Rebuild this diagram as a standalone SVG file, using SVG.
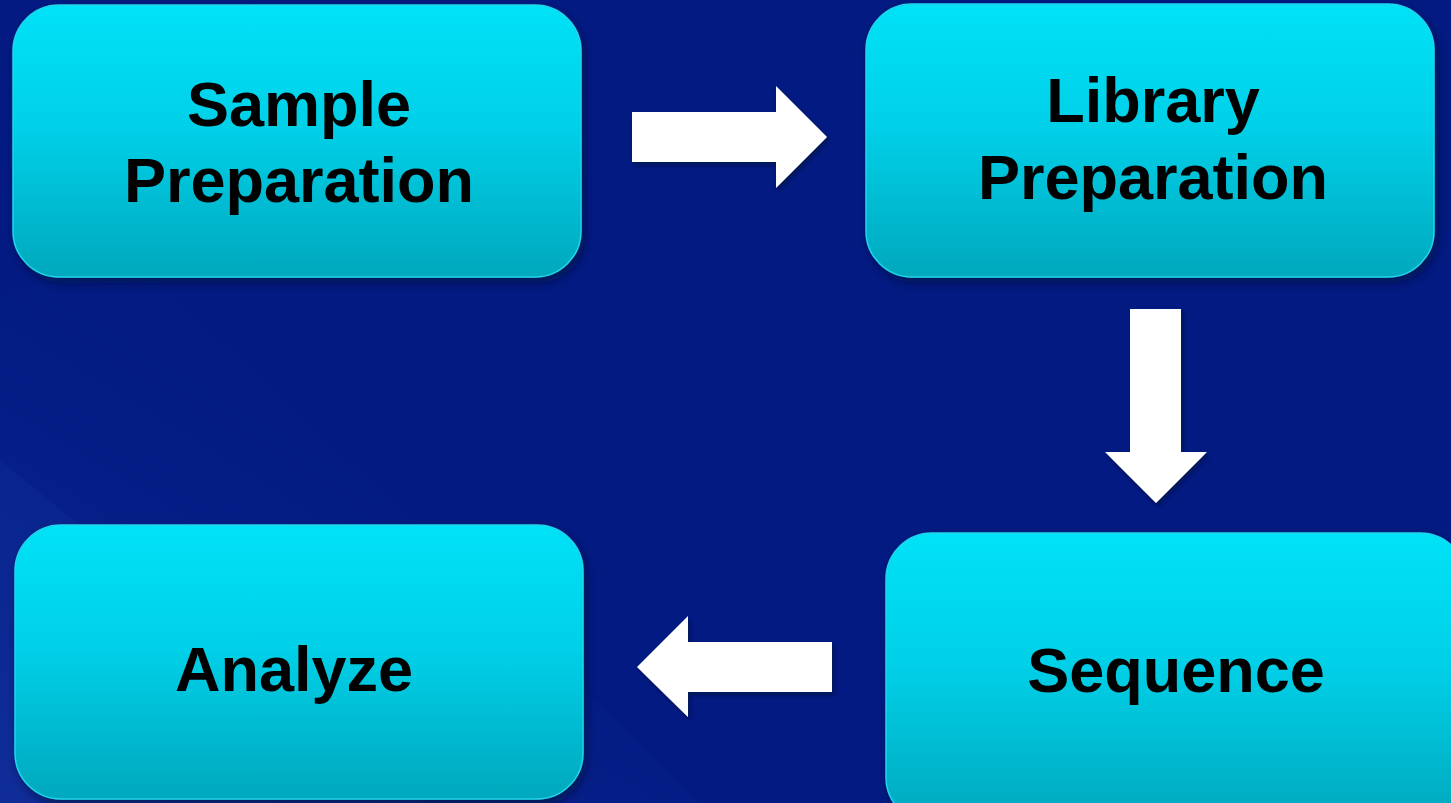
<svg xmlns="http://www.w3.org/2000/svg" width="1451" height="803" viewBox="0 0 1451 803">
  <defs>
    <linearGradient id="glow" x1="0" y1="1" x2="0.6" y2="0.2">
      <stop offset="0" stop-color="#1838a6" stop-opacity="0.9"/>
      <stop offset="0.5" stop-color="#0e2a96" stop-opacity="0.5"/>
      <stop offset="1" stop-color="#021a82" stop-opacity="0"/>
    </linearGradient>
    <linearGradient id="boxFill" x1="0" y1="0" x2="0" y2="1">
      <stop offset="0" stop-color="#00e2f7"/>
      <stop offset="0.45" stop-color="#00d0e8"/>
      <stop offset="1" stop-color="#00a8bd"/>
    </linearGradient>
    <filter id="shadow" x="-10%" y="-10%" width="125%" height="130%">
      <feDropShadow dx="3" dy="5" stdDeviation="5" flood-color="#000833" flood-opacity="0.6"/>
    </filter>
    <filter id="arrowShadow" x="-10%" y="-10%" width="130%" height="130%">
      <feDropShadow dx="2" dy="3" stdDeviation="2" flood-color="#000833" flood-opacity="0.6"/>
    </filter>
  </defs>
  <style>
    .box { fill: url(#boxFill); stroke: #22d4ea; stroke-width: 1.5; filter: url(#shadow); }
    .label { font-family: "Liberation Sans", Arial, sans-serif; font-weight: bold; font-size: 63px; fill: #000; text-anchor: middle; }
    .arrow { fill: #ffffff; filter: url(#arrowShadow); }
  </style>

  <!-- background -->
  <rect width="1451" height="803" fill="#021a82"/>
  <polygon points="0,803 0,300 120,240 700,803" fill="url(#glow)" opacity="0.6"/>
  <polygon points="0,803 0,460 420,803" fill="#1a3aa8" opacity="0.2"/>

  <!-- nodes -->
  <g id="sample-preparation">
    <rect class="box" x="13" y="5" width="568" height="272" rx="46" ry="46"/>
    <text class="label" x="299" y="126">Sample</text>
    <text class="label" x="299" y="202">Preparation</text>
  </g>
  <g id="library-preparation">
    <rect class="box" x="866" y="4" width="568" height="273" rx="46" ry="46"/>
    <text class="label" x="1153" y="122">Library</text>
    <text class="label" x="1153" y="199">Preparation</text>
  </g>
  <g id="sequence">
    <rect class="box" x="886" y="533" width="580" height="290" rx="46" ry="46"/>
    <text class="label" x="1176" y="692">Sequence</text>
  </g>
  <g id="analyze">
    <rect class="box" x="15" y="525" width="568" height="274" rx="46" ry="46"/>
    <text class="label" x="294" y="691">Analyze</text>
  </g>

  <!-- connectors -->
  <g id="connectors">
    <polygon class="arrow" points="632,112 776,112 776,86 827,137 776,188 776,162 632,162"/>
    <polygon class="arrow" points="1130,309 1181,309 1181,452 1207,452 1156,503 1105,452 1130,452"/>
    <polygon class="arrow" points="832,642 688,642 688,616 637,667 688,717 688,692 832,692"/>
  </g>
</svg>
